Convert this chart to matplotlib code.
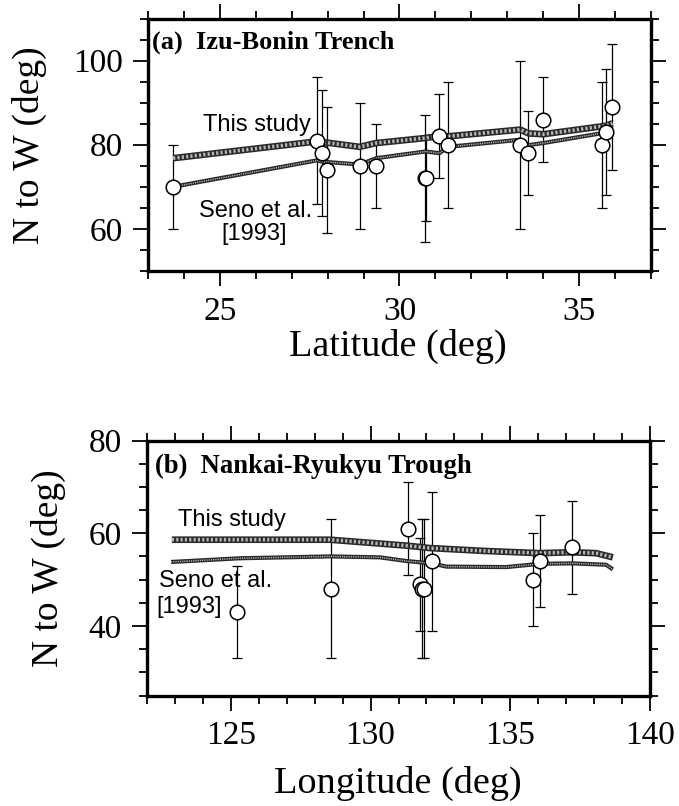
import matplotlib
matplotlib.use("Agg")
import matplotlib.pyplot as plt
from matplotlib.ticker import MultipleLocator
import numpy as np

# ---------------- data: panel (a) Izu-Bonin Trench ----------------
lat_a = [23.70, 27.71, 27.83, 27.98, 28.89, 29.35, 30.72, 30.75, 31.11, 31.36,
         33.36, 33.59, 34.00, 35.65, 35.74, 35.91]
val_a = [70, 81, 78, 74, 75, 75, 72, 72, 82, 80, 80, 78, 86, 80, 83, 89]
err_a = [10, 15, 15, 15, 15, 10, 15, 10, 10, 15, 20, 10, 10, 15, 15, 15]

this_lat_a = [23.70, 27.71, 28.89, 29.35, 30.72, 31.11, 31.36, 33.36, 33.59, 34.00, 35.74, 35.93]
this_val_a = [76.8, 80.8, 79.5, 80.4, 81.6, 82.1, 82.0, 83.6, 82.7, 82.5, 84.5, 85.1]
seno_lat_a = [23.70, 27.71, 27.83, 28.89, 29.35, 30.72, 31.11, 31.36, 33.36, 33.59, 34.00, 35.74, 35.93]
seno_val_a = [70.0, 76.3, 76.0, 75.3, 76.8, 78.4, 78.0, 79.5, 81.2, 79.9, 80.4, 82.9, 83.6]

# ---------------- data: panel (b) Nankai-Ryukyu Trough ----------------
lon_b = [125.21, 128.57, 131.34, 131.78, 131.85, 131.93, 132.21, 135.81, 136.05, 137.20]
val_b = [43, 48, 61, 49, 48, 48, 54, 50, 54, 57]
err_b = [10, 15, 10, 10, 15, 15, 15, 10, 10, 10]

this_lon_b = [122.89, 125.3, 128.55, 131.34, 132.12, 134.0, 136.05, 137.20, 138.07, 138.67]
this_val_b = [58.6, 58.6, 58.6, 57.3, 56.8, 56.2, 55.7, 55.9, 55.7, 54.8]
seno_lon_b = [122.86, 125.33, 128.55, 130.33, 131.29, 132.20, 132.71, 134.86, 136.05, 137.24, 138.43, 138.67]
seno_val_b = [53.8, 54.6, 55.0, 54.8, 54.0, 53.5, 52.8, 52.7, 53.4, 53.5, 53.2, 52.2]

W, H = 679, 806
fig = plt.figure(figsize=(W / 100, H / 100), dpi=100)
fig.patch.set_facecolor("white")

SERIF = ["Liberation Serif", "DejaVu Serif"]
SANS = ["Liberation Sans", "DejaVu Sans"]


def px_axes(l, r, t, b):
    return fig.add_axes([l / W, 1 - b / H, (r - l) / W, (b - t) / H])


ax1 = px_axes(148, 651, 18.5, 271)
ax2 = px_axes(147, 650, 440.5, 695.5)


def band(ax, x, y, wide):
    if wide:
        ax.plot(x, y, color="#2a2a2a", lw=4.8, solid_capstyle="butt", zorder=3)
        ax.plot(x, y, color="#b8b8b8", lw=2.6, ls=(0, (0.6, 0.6)), zorder=3.1)
    else:
        ax.plot(x, y, color="#2a2a2a", lw=3.0, solid_capstyle="butt", zorder=3)
        ax.plot(x, y, color="#c0c0c0", lw=1.0, ls=(0, (0.8, 0.8)), zorder=3.1)


def style(ax, xlim, ylim, xmaj, yticks):
    ax.set_xlim(*xlim)
    ax.set_ylim(*ylim)
    ax.xaxis.set_major_locator(MultipleLocator(xmaj))
    ax.xaxis.set_minor_locator(MultipleLocator(1))
    ax.set_yticks(yticks)
    ax.yaxis.set_minor_locator(MultipleLocator(5))
    for s in ax.spines.values():
        s.set_linewidth(2.4)
    ax.tick_params(which="both", direction="out", top=True, right=True,
                   width=1.3, color="black")
    ax.tick_params(which="major", length=11, pad=7)
    ax.tick_params(which="minor", length=5.5)
    for lab in ax.get_xticklabels() + ax.get_yticklabels():
        lab.set_fontfamily(SERIF)
        lab.set_fontsize(24)


for ax, xs, ys, es, tx, ty, sx, sy in [
    (ax1, lat_a, val_a, err_a, this_lat_a, this_val_a, seno_lat_a, seno_val_a),
    (ax2, lon_b, val_b, err_b, this_lon_b, this_val_b, seno_lon_b, seno_val_b),
]:
    ax.errorbar(xs, ys, yerr=es, fmt="none", ecolor="black", elinewidth=0.9,
                capsize=3.6, capthick=0.9, zorder=2)
    band(ax, tx, ty, True)
    band(ax, sx, sy, False)
    ax.plot(xs, ys, "o", ms=10.5, mfc="white", mec="black", mew=1.1, zorder=5)

style(ax1, (23, 37), (50, 110), 5, [60, 80, 100])
style(ax2, (122, 140), (25, 80), 5, [40, 60, 80])

# panel texts
ax1.text(0.008, 0.907, "(a)  Izu-Bonin Trench", transform=ax1.transAxes,
         fontfamily=SERIF, fontweight="bold", fontsize=19, ha="left", va="center")
ax1.text(0.109, 0.578, "This study", transform=ax1.transAxes,
         fontfamily=SANS, fontsize=17, ha="left", va="center")
ax1.text(0.213, 0.239, "Seno et al.", transform=ax1.transAxes,
         fontfamily=SANS, fontsize=17, ha="center", va="center")
ax1.text(0.210, 0.146, "[1993]", transform=ax1.transAxes,
         fontfamily=SANS, fontsize=17, ha="center", va="center")

ax2.text(0.016, 0.90, "(b)  Nankai-Ryukyu Trough", transform=ax2.transAxes,
         fontfamily=SERIF, fontweight="bold", fontsize=19.2, ha="left", va="center")
ax2.text(0.062, 0.688, "This study", transform=ax2.transAxes,
         fontfamily=SANS, fontsize=17, ha="left", va="center")
ax2.text(0.024, 0.45, "Seno et al.", transform=ax2.transAxes,
         fontfamily=SANS, fontsize=17, ha="left", va="center")
ax2.text(0.018, 0.348, "[1993]", transform=ax2.transAxes,
         fontfamily=SANS, fontsize=17, ha="left", va="center")

# axis labels
fig.text(29 / W, 1 - 145 / H, "N to W (deg)", rotation=90, ha="center", va="center",
         fontfamily=SERIF, fontsize=27)
fig.text(48 / W, 1 - 568 / H, "N to W (deg)", rotation=90, ha="center", va="center",
         fontfamily=SERIF, fontsize=27)
fig.text(398 / W, 1 - 346 / H, "Latitude (deg)", ha="center", va="center",
         fontfamily=SERIF, fontsize=27.5)
fig.text(398 / W, 1 - 783 / H, "Longitude (deg)", ha="center", va="center",
         fontfamily=SERIF, fontsize=27.5)

fig.savefig("out.png", dpi=100, facecolor="white")
